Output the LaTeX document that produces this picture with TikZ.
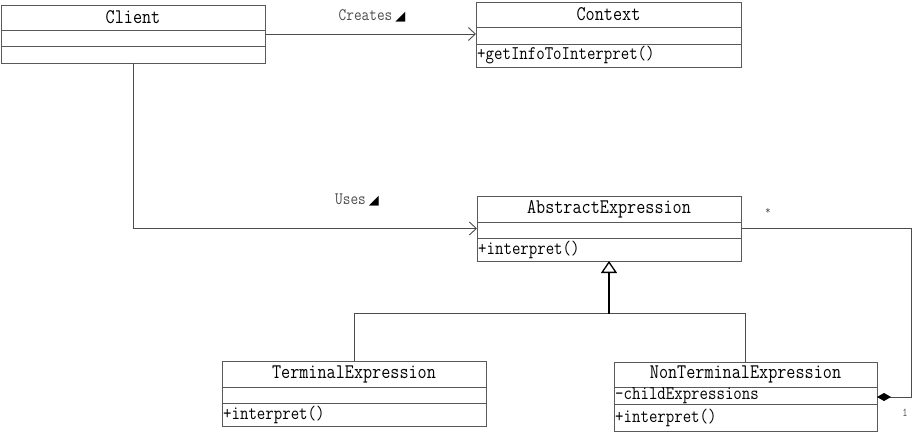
\documentclass[tikz,border=0pt]{standalone}
\usepackage{fontspec}
\setmonofont{Latin Modern Mono}[FakeStretch=0.85]
\newfontfamily\symfont{DejaVu Sans}
\usetikzlibrary{arrows.meta}
\tikzset{
  box/.style={draw=black!65, line width=0.9pt, inner sep=0pt, outer sep=0pt, anchor=north west},
  divider/.style={draw=black!65, line width=0.9pt},
  title/.style={inner sep=0pt, font=\fontsize{20.8}{21}\selectfont\ttfamily},
  member/.style={inner sep=0pt, anchor=west, font=\fontsize{19.3}{20}\selectfont\ttfamily},
  lbl/.style={inner sep=0pt, text=black!70, font=\fontsize{17.5}{18}\selectfont\ttfamily},
  mult/.style={inner sep=0pt, text=black!70, font=\fontsize{12}{12}\selectfont\ttfamily},
  assoc/.style={draw=black!70, line width=0.9pt, -{Straight Barb[length=7pt,width=13pt]}},
  inh/.style={draw=black!70, line width=0.9pt},
  inhtip/.style={draw=black, line width=1.3pt, -{Triangle[open,length=12pt,width=16pt]}},
  comp/.style={draw=black!70, line width=0.9pt, -{Diamond[length=14pt,width=8pt,fill=black,color=black]}},
}
\begin{document}
\begin{tikzpicture}[x=1pt,y=-1pt]
\useasboundingbox (0,0) rectangle (912,434);
% Client
\node[box, minimum width=264pt, minimum height=58pt] (client) at (1,5) {};
\draw[divider] (1,30) -- (265,30);
\draw[divider] (1,46) -- (265,46);
\node[title] (clientT) at (133,17.5) {Client};
% Context
\node[box, minimum width=265pt, minimum height=65pt] (context) at (476,2) {};
\draw[divider] (476,27) -- (741,27);
\draw[divider] (476,44) -- (741,44);
\node[title] (contextT) at (608.5,14.5) {Context};
\node[member] (contextM) at (477,55.5) {+getInfoToInterpret()};
% AbstractExpression
\node[box, minimum width=264pt, minimum height=65pt] (abstract) at (477,196) {};
\draw[divider] (477,222) -- (741,222);
\draw[divider] (477,238) -- (741,238);
\node[title] (abstractT) at (609,209) {AbstractExpression};
\node[member] (abstractM) at (478,249.5) {+interpret()};
% TerminalExpression
\node[box, minimum width=264pt, minimum height=65pt] (terminal) at (222,361) {};
\draw[divider] (222,387) -- (486,387);
\draw[divider] (222,403) -- (486,403);
\node[title] (terminalT) at (354,374) {TerminalExpression};
\node[member] (terminalM) at (223,414.5) {+interpret()};
% NonTerminalExpression
\node[box, minimum width=263pt, minimum height=69pt] (nonterminal) at (614,362) {};
\draw[divider] (614,387) -- (877,387);
\draw[divider] (614,404) -- (877,404);
\node[title] (nonterminalT) at (745.5,374.5) {NonTerminalExpression};
\node[member] (nonterminalA) at (615,395.5) {-childExpressions};
\node[member] (nonterminalM) at (615,417.5) {+interpret()};
% Creates
\draw[assoc] (client.east) -- (client.east -| context.west);
\node[lbl] (creates) at (372,16) {Creates\,{\symfont\fontsize{13}{13}\selectfont\color{black}◢}};
% Uses
\draw[assoc] (client.south) |- (abstract.west);
\node[lbl] (uses) at (357,200) {Uses\,{\symfont\fontsize{13}{13}\selectfont\color{black}◢}};
% Inheritance
\coordinate (j) at (609,313.5);
\draw[inh] (terminal.north) |- (j) -| (nonterminal.north);
\draw[inhtip] (j) -- (abstract.south);
% Composition
\coordinate (c1) at (911,228.5);
\coordinate (c2) at (911,397);
\draw[comp] (abstract.east) -- (c1) -- (c2) -- (nonterminal.east |- c2);
\node[mult] (star) at (768,211) {*};
\node[mult] (one) at (905,413) {1};
\end{tikzpicture}
\end{document}
